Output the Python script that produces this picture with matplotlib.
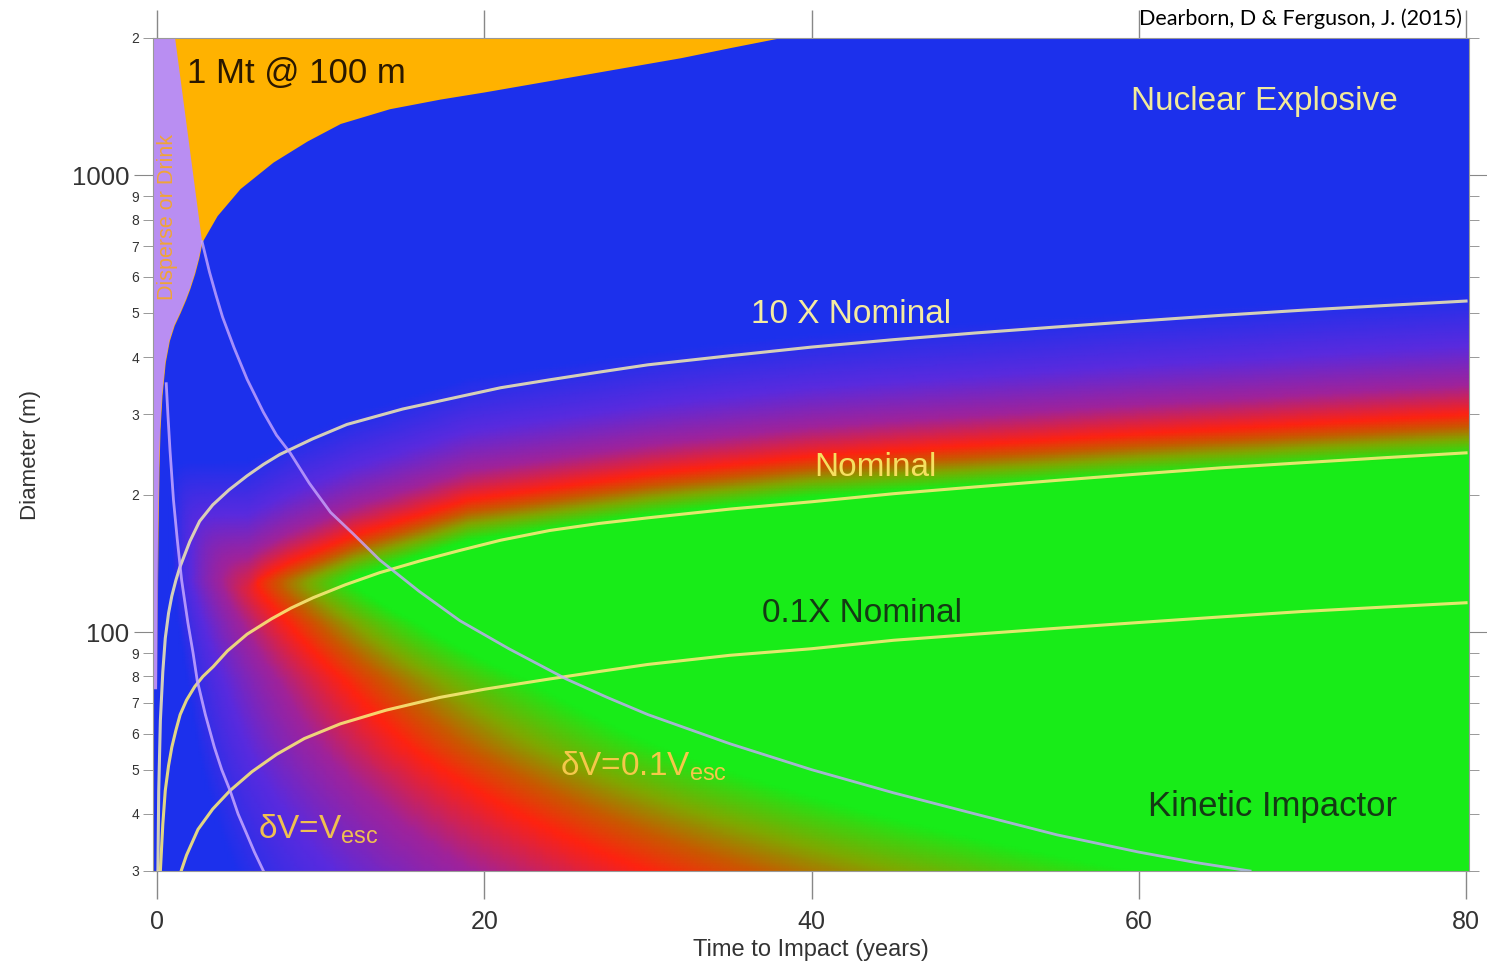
import numpy as np
import matplotlib
matplotlib.use("Agg")
import matplotlib.pyplot as plt
from matplotlib.colors import LinearSegmentedColormap
from matplotlib.ticker import FixedLocator, FixedFormatter

# deflection capability curves, time to impact (years) vs diameter (m)
nom10_t = [0.05, 0.1, 0.2, 0.35, 0.5, 0.7, 0.9, 1.15, 1.4, 2.0, 2.6, 3.4, 4.4, 5.5, 6.5, 7.5, 9.5,
           11.6, 15, 18.5, 21, 24, 27, 30, 35, 40, 45, 50, 55, 60, 65, 70, 75, 80]
nom10_d = [30, 45, 64, 82, 97, 110, 120, 130, 139, 158, 175, 190, 205, 220, 233, 245, 265,
           285, 308, 328, 343, 357, 371, 385, 403, 421, 437, 452, 466, 480, 494, 507, 519, 531]
nom_t = [0.2, 0.35, 0.5, 0.7, 0.9, 1.15, 1.41, 1.8, 2.3, 2.8, 3.42, 4.3, 5.5, 7, 8.2, 9.54, 11.5,
         13.6, 16, 18.5, 21, 24, 27, 30, 35, 40, 45, 50, 55, 60, 65, 70, 75, 80]
nom_d = [30, 38, 45, 51, 56, 61, 66, 71, 76, 80, 84, 91, 99, 107, 113, 119, 127,
         135, 143, 151, 159, 167, 173, 178, 186, 193, 201, 208, 215, 222, 229, 235, 241, 247]
nom01_t = [1.47, 1.8, 2.5, 3.4, 4.46, 5.8, 7.3, 9, 11.2, 14, 17.3, 20, 24, 27, 30, 35, 40,
           45, 50, 55, 60, 65, 70, 75, 80]
nom01_d = [30, 32.5, 37, 41, 45, 49.5, 54, 58.5, 63, 67.5, 72, 75, 79, 82, 85, 89, 92,
           96, 99, 102, 105, 108, 111, 113.5, 116]

# escape velocity curves
vesc_t = [0.56, 0.66, 0.79, 1.0, 1.23, 1.5, 1.88, 2.2, 2.45, 2.95, 3.5, 3.95, 4.46, 4.95, 5.5, 5.95, 6.5]
vesc_d = [350, 300, 250, 195, 160, 130, 105, 90, 78.5, 66, 56, 50, 45, 40, 36, 33, 30]
vesc01_t = [2.75, 3.2, 3.6, 4.0, 4.7, 5.5, 6.5, 7.3, 8.13, 9.3, 10.6, 12, 13.6, 16, 18.5, 21.5,
            25, 27.5, 30, 35, 40, 45, 50, 55, 60, 63.5, 66.8]
vesc01_d = [716, 615, 547, 490, 420, 358, 303, 270, 247, 212, 183, 164, 144, 123, 106, 92,
            79, 72, 66, 57, 50, 44.5, 40, 36, 33, 31.3, 30]

# red (equal preference) band: upper branch and diagonal branch
red_t = [5.5, 8, 12, 19, 30, 40, 60, 80]
red_d = [128, 142, 163, 195, 222, 243, 272, 300]
diag_d = [30, 43, 56, 78, 105, 130]
diag_t = [30, 20.5, 15.5, 11.5, 8.0, 5.8]

# edge of the blue region (1 Mt @ 100 m limit); corner where the strip meets it
edge_t = [0.0, 0.03, 0.06, 0.12, 0.18, 0.3, 0.5, 0.75, 1.05, 1.4, 1.75, 2.0, 2.3, 2.55, 2.75,
          3.67, 5.07, 7.09, 9.17, 11.2, 14.2, 17.3, 20, 24, 28, 32, 35, 38]
edge_d = [75, 130, 168, 230, 278, 330, 390, 435, 470, 500, 535, 565, 610, 660, 716,
          817, 936, 1070, 1190, 1300, 1400, 1470, 1524, 1614, 1710, 1811, 1905, 2000]
strip_top_t = 1.1

plt.rcParams['font.family'] = ['Liberation Sans', 'DejaVu Sans']
plt.rcParams['mathtext.fontset'] = 'custom'
plt.rcParams['mathtext.rm'] = 'Liberation Sans'

fig = plt.figure(figsize=(14.87, 9.65), dpi=100)
ax = fig.add_axes([153/1487, 94/965, 1315.5/1487, 833/965])

cmap = LinearSegmentedColormap.from_list("nk", [
    (0.0, "#1c30ec"), (0.22, "#5a2ade"), (0.38, "#a0229a"),
    (0.5, "#ff2210"), (0.65, "#c85a00"), (0.8, "#80a800"), (1.0, "#18ec18")])

tt = np.linspace(-0.25, 80.15, 402)
dd = np.logspace(np.log10(30), np.log10(2000), 301)
T, D = np.meshgrid(tt, dd)
ld = np.log10(D)
up = np.interp(T, red_t, np.log10(red_d)) - ld
ka = np.where(up > 0, up / 0.09, up / 0.27)
td = np.interp(ld, np.log10(diag_d), np.log10(diag_t))
dg = np.log10(np.maximum(T, 0.05)) - td
kb = np.where(dg > 0, dg / 0.3, dg / 0.8)
s = 0.12
k = -s * np.logaddexp(-ka / s, -kb / s)
k = np.clip(k, -1, 1)
ax.pcolormesh(T, D, k, cmap=cmap, vmin=-1, vmax=1, shading='gouraud', zorder=0, rasterized=True)

# orange region and lavender strip
ax.fill_between(edge_t, edge_d, 2000, color="#ffb200", lw=0, zorder=1)
ic = edge_d.index(716)
st = [-0.25, strip_top_t] + edge_t[:ic + 1][::-1] + [-0.25]
sd = [2000, 2000] + edge_d[:ic + 1][::-1] + [75]
ax.fill(st, sd, color="#b98ef2", lw=0, zorder=1)

ax.plot(nom10_t, nom10_d, color="#f4ecb0", lw=2.2, alpha=0.85, zorder=3)
ax.plot(nom_t, nom_d, color="#f8e878", lw=2.2, alpha=0.9, zorder=3)
ax.plot(nom01_t, nom01_d, color="#f8e878", lw=2.2, alpha=0.9, zorder=3)
ax.plot(vesc_t, vesc_d, color="#c8a8ff", lw=2, alpha=0.85, zorder=3)
ax.plot(vesc01_t, vesc01_d, color="#c8a8ff", lw=2, alpha=0.8, zorder=3)

ax.set_yscale('log')
ax.set_xlim(-0.25, 80.15)
ax.set_ylim(30, 2000)

ax.set_xticks([0, 20, 40, 60, 80])
ax.yaxis.set_major_locator(FixedLocator([100, 1000]))
ax.yaxis.set_major_formatter(FixedFormatter(["100", "1000"]))
minors = [30, 40, 50, 60, 70, 80, 90, 200, 300, 400, 500, 600, 700, 800, 900, 2000]
ax.yaxis.set_minor_locator(FixedLocator(minors))
ax.yaxis.set_minor_formatter(FixedFormatter([str(m)[0] for m in minors]))
ax.tick_params(which='both', direction='out', top=True, right=True, color='#888', labelcolor='#333')
ax.tick_params(axis='x', length=20, width=1, labelsize=18, pad=8)
ax.tick_params(axis='y', which='major', length=14, labelsize=18.5, pad=3)
ax.tick_params(axis='y', which='minor', length=7, labelsize=10, pad=3)
for sp in ax.spines.values():
    sp.set_color('#999')

ax.set_xlabel("Time to Impact (years)", fontsize=17, color='#333', labelpad=4)
ax.set_ylabel("Diameter (m)", fontsize=16, color='#333', labelpad=22)

ax.text(1.83, 1675, "1 Mt @ 100 m", fontsize=25, color="#2a1800", ha='left', va='center', zorder=4)
ax.text(67.7, 1455, "Nuclear Explosive", fontsize=24, color="#f2ea9a", ha='center', va='center', zorder=4)
ax.text(42.4, 495, "10 X Nominal", fontsize=24, color="#f4eba0", ha='center', va='center', zorder=4)
ax.text(43.9, 229, "Nominal", fontsize=24, color="#f5e060", ha='center', va='center', zorder=4)
ax.text(43.1, 110, "0.1X Nominal", fontsize=24, color="#143a14", ha='center', va='center', zorder=4)
ax.text(68.2, 41.5, "Kinetic Impactor", fontsize=25, color="#143a14", ha='center', va='center', zorder=4)
ax.text(24.6, 51, r"δV=0.1V$_\mathregular{esc}$", fontsize=24, color="#f5c84a", ha='left', va='center', zorder=4)
ax.text(6.17, 37, r"δV=V$_\mathregular{esc}$", fontsize=24, color="#f0c050", ha='left', va='center', zorder=4)
ax.text(0.62, 813, "Disperse or Drink", fontsize=15.5, color="#f0a438", rotation=90, ha='center', va='center', zorder=4)

fig.text(0.983, 0.981, "Dearborn, D & Ferguson, J. (2015)", fontsize=15.5, family=['Lato', 'DejaVu Sans'],
         ha='right', va='center', color='black')

fig.savefig("out.png", dpi=100)
